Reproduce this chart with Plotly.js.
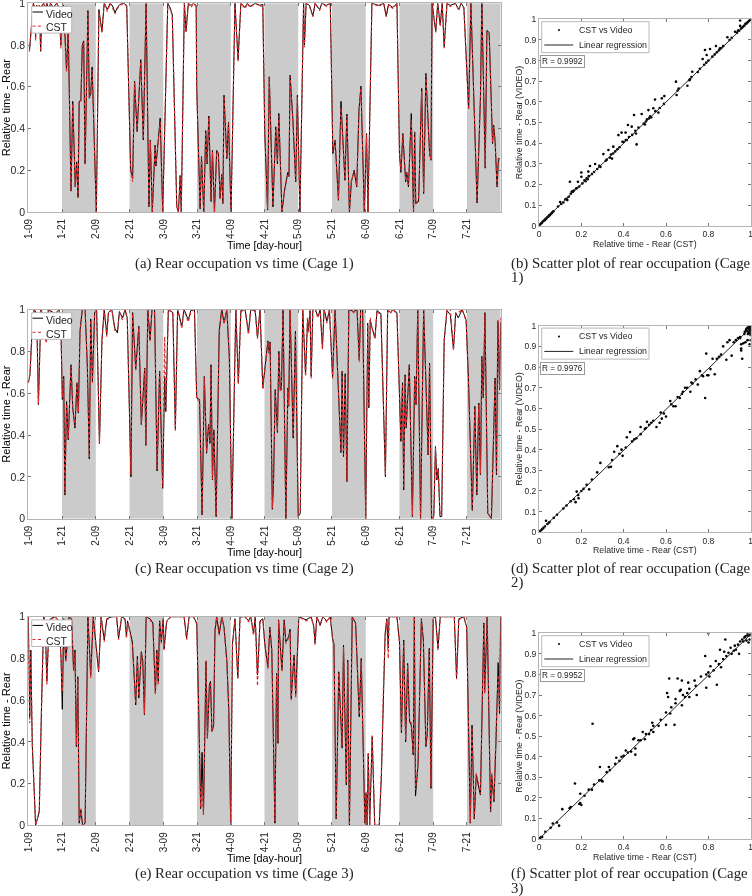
<!DOCTYPE html>
<html>
<head>
<meta charset="utf-8">
<script src="https://cdn.plot.ly/plotly-3.0.1.min.js"></script>
<style>html,body{margin:0;padding:0;background:#fff}#chart{width:752px;height:896px;filter:blur(0.35px)}</style>
</head>
<body>
<div id="chart"></div>
<script>
const tickHours=[0,12,24,36,48,60,72,84,96,108,120,132,144,156];
const tickLabels=['1-09','1-21','2-09','2-21','3-09','3-21','4-09','4-21','5-09','5-21','6-09','6-21','7-09','7-21'];
const nightStarts=[12,36,60,84,108,132,156];
const nightLength=12;

const hoursA=[0.4,0.9,1.8,2.3,2.6,3,3.4,3.9,4.4,4.9,5.5,6,6.6,7.4,7.9,8.9,10.1,11,11.6,12,12.5,13,13.6,14.2,14.7,15.2,15.8,16.7,17.2,17.7,18.1,18.7,19.2,19.7,20.2,21.2,21.7,22.2,22.7,23.1,24.2,25.1,26.2,27,28.1,29.1,29.9,30.8,31.7,32.6,34,35,36.4,37.1,37.8,38.7,40,40.9,41.9,42.9,43.4,44.1,45.1,45.4,46.9,47.8,49.6,50.4,51.2,52.8,53.4,54,54.4,55.5,56.1,56.9,57.9,58.7,59.7,59.9,61.1,61.6,62.4,63.1,63.6,64.2,65,65.5,66.2,67,67.6,68.2,68.8,69.2,69.6,70.6,71.2,72.1,73.5,74.6,75.6,77.1,77.9,78.9,80.7,82.4,83.4,84.1,85.1,85.7,87,88,88.6,89.1,90.2,91.1,92.3,92.7,93.1,94.1,95.1,95.7,96.6,97.9,98.2,98.8,100,101.2,102,103.6,104.4,106,107.4,108.3,109.1,110.3,111.2,112.6,113.3,114.2,114.9,115.9,116.8,117.6,118.3,119.5,120.3,120.8,122.2,124.6,126.4,127.3,128.1,129.7,131.1,132,132.5,133.2,134.2,134.6,135.2,136.2,137,137.4,137.8,138.8,139.9,140.6,141.4,142.7,143.2,143.6,144.9,145.6,146.5,147.2,147.9,148.9,150.1,151.9,153.1,153.9,154.9,155.4,156.6,157.4,159.6,160.8,161.3,162.5,163.1,163.9,165.1,165.5,166,166.7,167.2,167.6];
const videoA=[.77,.86,1,.97,.84,.99,.97,.99,.77,.99,1,.97,1,.97,1,.98,1,.98,.8,.98,.99,.86,.68,.87,.5,.1,.53,.12,.24,.07,.53,.535,.8,.82,.23,.965,.545,.57,.695,.5,0,.97,.865,1,.97,1,.99,.955,.98,.995,1,.99,.2,.16,.627,.385,.73,.345,1,.025,.345,0,.32,.22,.45,0,1,.98,.945,.025,0,.175,0,1,.865,1,.99,1,.99,.59,.015,.265,0,.39,.23,.46,.05,.295,0,.295,.28,.065,.18,.04,.56,.255,.43,0,1,.73,1,.98,1,.985,1,.99,.995,.376,.01,.648,.024,.408,.23,.472,0,.1,.19,.17,.656,.44,.144,.56,0,1,.8,1,.99,.94,1,.97,1,.99,1,.28,.344,.056,.53,.152,.469,0,.145,.2,.12,.488,.603,0,.376,0,1,.99,1,.94,.995,.98,1,.28,.19,.376,.144,.19,.12,.472,0,.384,.04,.05,.592,.088,.664,.28,.248,1,.865,1,.896,1,.792,1,.99,1,.97,1,.98,.84,.496,1,.043,.55,1,.21,.87,.86,.328,.416,.34,.12,.256,.256];
const cstA=[.77,.85,1,.98,.82,.99,.96,.99,.77,.99,1,.98,1,.96,1,.98,1,.97,.78,.98,.99,.85,.67,.86,.5,.1,.52,.12,.23,.07,.53,.53,.79,.815,.23,.96,.55,.56,.68,.51,0,.96,.86,1,.96,1,.98,.95,.975,.99,1,.985,.21,.145,.62,.39,.72,.35,1,.03,.34,0,.315,.225,.43,0,1,.975,.94,.03,0,.17,0,1,.86,1,.98,1,.985,.58,.02,.26,0,.385,.235,.455,.055,.29,0,.29,.28,.07,.175,.045,.555,.26,.425,0,1,.72,1,.975,1,.98,1,.985,.99,.38,.015,.645,.03,.4,.24,.46,0,.1,.185,.175,.65,.435,.15,.55,0,1,.79,1,.985,.935,1,.965,1,.985,1,.29,.34,.06,.5,.155,.46,0,.15,.195,.125,.48,.595,0,.37,0,1,.985,1,.935,.99,.975,1,.29,.2,.37,.15,.185,.13,.44,0,.38,.045,.055,.58,.095,.655,.285,.25,1,.86,1,.89,1,.785,1,.985,1,.965,1,.975,.83,.49,1,.05,.545,1,.215,.86,.85,.335,.41,.345,.125,.25,.25];

const hoursC=[0,.6,1.3,2.1,3,3.6,4.5,5.3,6.3,6.6,7.1,9.5,11,11.7,12.1,12.6,13,13.6,14.2,15.2,15.8,16.6,17.3,17.8,18.4,19.2,20.2,21,21.7,22.2,22.8,23.6,24.3,25.3,26.2,27,27.9,28.5,29.7,30.8,31.7,32.4,33.5,34.4,35.2,36.5,37.1,38.2,39.3,40.2,41.4,41.8,42.5,43.3,44,44.9,45.8,46.7,47.8,48.5,48.9,49.8,51.4,52.3,53.1,54.6,55.4,56.9,57.8,59.1,59.9,60.9,61.8,62.6,63.4,64.1,64.6,65,65.5,66,66.8,67.9,68.8,69.6,70.6,71.5,72.4,73.8,74.7,75.6,77.1,78.3,79.1,80.7,81.5,82.4,83.4,85.2,85.7,86,86.8,87.2,87.8,88.6,89.1,89.6,90,90.6,91.6,92.3,92.6,93.1,94.2,95,96,96.7,97.6,98.6,99.3,99.6,100.2,100.6,101.2,102.1,103,103.8,104.6,105.2,106.2,107.1,108.2,109.1,110.3,111.2,111.6,112.1,112.7,113.3,114,115.7,116.9,117.7,118.2,118.9,120,120.7,121.1,121.6,122.3,123.3,124,125.4,127,127.8,128.8,129.6,131.1,132,132.5,133.1,133.5,134,134.4,135.5,136.6,137.4,137.9,138.5,139.5,140.6,142.2,142.7,143.4,144.2,144.8,145.3,145.8,146.4,147,147.9,148.9,150.1,151.2,152,152.9,154.3,155.7,156.5,157.9,158.8,159.5,160.2,160.8,161.3,161.8,162.4,163.4,164.7,166,166.5,167,167.6,168];
const videoC=[.65,.69,.89,1,.98,.545,1,.97,.85,.87,1,.98,1,.85,.57,.68,.113,.56,.377,.736,.53,.433,.65,.505,.9,1,1,.73,.285,.955,.657,.985,1,.358,.855,1,.88,.985,1,.91,.888,.99,.96,1,.96,.2,.985,.715,.92,.45,.72,.35,1,.855,1,1,.228,.705,.145,.68,.513,1,.985,.43,1,.92,1,.95,.995,1,.577,.57,.018,.68,.313,.45,.36,.736,.185,.425,.01,.9,1,.935,1,.77,0,1,.65,.995,1,.888,1,.995,.865,1,.625,.85,.79,.845,.045,.17,.617,.412,.8,.617,.617,1,0,.625,.537,1,.385,.896,.01,.025,1,.688,.95,.9,.995,.68,1,1,.965,1,.816,1,.944,1,.677,1,.61,.316,.705,.297,.693,.177,1,.99,1,.76,1,1,0,.935,.53,.95,.91,.865,.995,.98,.2,1,.985,1,.985,.57,.37,.65,.137,.688,.433,.736,.01,.68,.545,1,0,1,.305,.744,0,.01,.345,.185,.24,.01,.01,.855,.995,.975,.81,.985,.96,1,.95,.68,.04,.537,.113,.553,.21,.776,.577,.985,.025,0,.672,.21,.944,.617,.94];
const cstC=[.65,.69,.88,1,.97,.55,1,.96,.84,.86,1,.97,1,.84,.58,.67,.12,.55,.385,.73,.535,.44,.65,.51,.89,1,1,.72,.29,.95,.65,.98,1,.36,.85,1,.87,.98,1,.9,.9,.985,.95,1,.955,.21,.98,.71,.915,.455,.715,.355,1,.85,1,1,.235,.7,.15,.87,.51,1,.98,.42,1,.91,1,.94,.99,1,.57,.565,.02,.675,.32,.445,.37,.73,.19,.42,.015,.89,1,.93,1,.765,0,1,.645,.99,1,.88,1,.99,.86,1,.62,.845,.785,.84,.05,.175,.61,.42,.79,.61,.625,1,0,.62,.54,1,.39,.89,.015,.03,1,.68,.96,.89,.99,.67,1,1,.96,1,.81,1,.935,1,.67,1,.605,.32,.7,.305,.685,.18,1,.985,1,.75,1,1,0,.93,.535,.96,.905,.86,.99,.975,.21,1,.98,1,.98,.565,.38,.645,.145,.68,.44,.73,.015,.67,.55,1,0,1,.31,.74,0,.015,.34,.19,.235,.015,.015,.85,1,1,.805,.98,.985,1,.945,.67,.045,.53,.12,.545,.215,.77,.58,.98,.03,0,.665,.22,.95,.62,.96];

const hoursE=[0,.5,.9,1.4,2.6,3.9,4.7,5.5,6,6.6,7.4,7.9,9.5,11,11.6,12.1,12.6,13.3,13.9,14.5,15.4,16.1,16.6,17.1,17.6,18.1,18.7,19.3,20.2,21.2,22.2,23.1,25,25.9,27,27.9,29.7,31.4,32.1,33.2,34.4,34.9,35.3,37,38.2,38.8,39.3,40.2,40.7,41.3,41.9,43.3,44.3,45.2,45.7,46.2,46.7,47.3,48,48.3,49.2,50.7,52.6,54.6,55.4,56.3,57.2,58.7,59.9,60.6,61.3,61.8,62.3,63.2,63.7,64.4,64.8,65.3,65.9,66.4,67,67.9,68.8,69.6,70.6,71.3,72,72.6,73.5,74.5,75.3,77.1,78.3,79.1,80.1,80.7,81.5,82.4,83.4,84.1,85.2,85.9,86.6,87.7,88.3,88.8,89,90.2,91,91.6,92.6,93.1,93.5,94.5,95.1,95.8,96.2,98.8,99.6,100.6,101.5,102,102.6,103.8,104.7,106.2,107.4,108.2,108.7,109.5,110.4,111.6,112.1,113.1,113.6,114.2,115.2,116.4,117.7,118.4,119.7,120.1,120.5,120.9,121.4,122.3,123.2,124.8,125.6,126.3,126.9,127.5,128,128.3,131.1,132,132.7,133.5,134.2,134.9,135.6,136.2,136.9,137.3,137.7,138.6,139.8,140.5,141.4,141.9,142.6,143.2,144,144.8,145.7,146.5,147.7,150.1,151.5,152.3,153.1,154.9,155.9,157.2,157.8,158.6,159.3,159.9,160.8,162,162.3,163.2,164.4,164.8,165.6,166.3,167.1,167.6,168];
const videoE=[1,.52,.84,.39,0,.065,.57,1,.97,.69,.98,.99,1,.98,.82,.556,.99,.79,.88,1,.99,.744,.84,.377,.712,.01,.073,0,.01,1,.72,1,.736,1,.888,.99,1,1,.896,1,.99,.904,.98,.88,.577,.81,.61,.832,.79,.53,1,.99,.97,.633,.84,.69,.98,.88,.99,.845,.98,1,1,1,1,.896,1,1,.97,.55,.08,.35,.055,.785,.417,.672,.69,.45,.48,.936,1,.917,1,.95,.79,.55,0,.87,.99,.705,1,1,.98,1,.92,1,.72,.98,.99,.872,.757,.95,.84,.01,.728,.393,.985,.744,.985,.88,.904,.94,.608,.816,.63,.86,1,.985,.99,1,.955,.872,1,.96,1,.98,1,.896,.87,.03,.736,.37,.864,.193,.792,0,1,.97,.52,.8,.01,.153,0,.345,0,.425,0,0,.25,.67,.92,.99,.85,1,1,.88,.444,.888,.4,.776,.497,.48,.337,1,.14,.289,.99,.888,.377,.44,.848,.177,.99,1,.848,1,1,1,1,.705,.99,1,.95,.01,.48,.03,.24,.2,.145,.97,.64,1,.065,.24,.113,.39,.78,.536,1];
const cstE=[1,.49,.83,.4,0,.07,.56,1,.96,.675,.97,.985,1,.975,.81,.64,.985,.78,.87,1,.985,.74,.83,.385,.705,.015,.08,0,.015,1,.705,1,.74,1,.88,.985,1,1,.89,1,.985,.895,.975,.87,.585,.8,.62,.825,.785,.535,1,.985,.965,.625,.83,.67,.975,.87,.985,.84,.975,1,1,1,1,.89,1,1,.965,.56,.085,.2,.05,.79,.42,.665,.68,.45,.47,.93,1,.91,1,.945,.785,.56,0,.865,.985,.7,1,1,.975,1,.91,1,.668,.975,.985,.865,.75,.945,.835,.015,.72,.4,.98,.735,.98,.87,.9,.93,.6,.81,.61,.85,1,.98,.985,1,.95,.865,1,.955,1,.975,1,.89,.865,.035,.73,.38,.855,.2,.785,0,1,.965,.53,.79,.015,.16,0,.35,0,.43,0,0,.27,.66,.9,.985,.8,1,1,.875,.45,.88,.41,.77,.5,.49,.345,1,.17,.295,.985,.88,.385,.45,.84,.185,.985,1,.84,1,1,1,1,.7,.985,1,.945,.015,.47,.035,.25,.21,.15,.965,.63,1,.07,.25,.12,.44,.72,.55,1];

const scatterXB=[.002,.006,.01,.014,.018,.022,.027,.031,.035,.04,.044,.048,.052,.056,.06,.064,.068,.09,.1,.105,.115,.125,.13,.134,.14,.146,.15,.155,.16,.165,.175,.18,.184,.19,.2,.2,.205,.215,.22,.225,.23,.233,.235,.241,.25,.26,.265,.275,.285,.29,.304,.315,.32,.328,.335,.34,.345,.35,.351,.36,.37,.375,.38,.39,.394,.4,.409,.41,.415,.42,.425,.438,.44,.449,.455,.458,.461,.47,.485,.495,.5,.505,.51,.517,.52,.525,.53,.54,.548,.55,.564,.57,.58,.59,.592,.647,.65,.655,.66,.701,.71,.713,.72,.724,.75,.76,.773,.78,.784,.79,.792,.8,.808,.819,.83,.836,.84,.85,.855,.86,.87,.89,.9,.91,.926,.935,.94,.945,.95,.95,.955,.96,.965,.97,.975,.98,.984,.988,.992,.996,1];
const scatterYB=[.003,.006,.012,.014,.02,.024,.027,.033,.035,.042,.044,.05,.052,.058,.06,.066,.07,.093,.115,.105,.113,.128,.13,.124,.14,.213,.155,.165,.165,.17,.18,.183,.213,.19,.258,.237,.205,.22,.215,.23,.225,.262,.24,.289,.25,.26,.299,.275,.29,.285,.347,.315,.32,.367,.33,.345,.325,.35,.383,.36,.37,.439,.38,.451,.407,.405,.451,.415,.415,.488,.43,.48,.44,.536,.46,.447,.394,.475,.541,.495,.49,.505,.515,.56,.52,.53,.525,.569,.611,.555,.548,.57,.617,.59,.628,.698,.633,.655,.665,.678,.705,.709,.72,.746,.745,.76,.808,.78,.851,.79,.827,.8,.856,.819,.83,.871,.84,.85,.86,.86,.87,.913,.9,.91,.94,.935,.945,.945,.994,.968,.955,.96,.965,.97,.978,.98,.984,.988,.992,.997,1];

const scatterXD=[.003,.008,.014,.02,.027,.033,.04,.046,.05,.07,.085,.115,.13,.15,.165,.173,.178,.185,.187,.2,.21,.225,.237,.25,.275,.29,.33,.34,.345,.355,.37,.38,.39,.395,.41,.415,.43,.44,.45,.46,.48,.48,.5,.505,.51,.52,.53,.54,.555,.57,.575,.58,.59,.6,.62,.625,.635,.645,.655,.665,.675,.68,.69,.7,.715,.72,.725,.74,.75,.76,.77,.775,.785,.79,.795,.8,.81,.82,.83,.84,.85,.86,.87,.885,.89,.9,.91,.92,.93,.94,.95,.95,.955,.955,.955,.96,.965,.97,.972,.975,.978,.98,.982,.985,.985,.987,.99,.99,.992,.995,.995,.996,.997,.998,.998,.999,1,1,1,1];
const scatterYD=[.003,.009,.014,.02,.028,.056,.04,.046,.05,.07,.085,.115,.13,.15,.16,.146,.197,.18,.165,.2,.21,.23,.208,.255,.29,.336,.315,.317,.35,.39,.417,.38,.4,.37,.41,.46,.485,.44,.45,.455,.475,.51,.5,.505,.535,.52,.53,.54,.51,.53,.58,.55,.575,.56,.635,.62,.61,.61,.655,.65,.67,.68,.7,.7,.68,.725,.72,.74,.715,.78,.76,.755,.65,.865,.76,.76,.79,.84,.765,.84,.85,.86,.9,.835,.92,.93,.855,.92,.93,.94,.94,.945,.88,.91,.89,.84,.915,.96,.97,.92,.98,.985,.975,.93,.99,.96,1,.97,.985,.91,.995,.98,.965,1,.99,.955,1,.985,.975,.93];

const scatterXF=[.005,.01,.015,.03,.055,.065,.085,.095,.11,.145,.15,.17,.19,.195,.195,.2,.215,.235,.25,.253,.26,.285,.288,.295,.3,.32,.33,.335,.36,.365,.38,.39,.4,.41,.42,.435,.445,.45,.455,.455,.47,.48,.49,.5,.505,.52,.53,.535,.54,.54,.565,.575,.6,.6,.605,.61,.615,.62,.625,.64,.645,.645,.655,.665,.67,.675,.675,.68,.69,.7,.705,.71,.71,.735,.74,.745,.765,.785,.79,.79,.8,.8,.805,.81,.825,.835,.84,.85,.855,.86,.87,.875,.88,.885,.895,.905,.91,.92,.925,.93,.94,.945,.95,.96,.965,.97,.975,.98,.985,.985,.99,.995,.995,1];
const scatterYF=[.005,.01,.01,.035,.055,.075,.08,.065,.145,.15,.155,.27,.17,.22,.175,.165,.21,.24,.24,.56,.265,.285,.35,.285,.28,.325,.35,.335,.365,.395,.38,.4,.405,.43,.42,.425,.485,.49,.44,.41,.48,.48,.52,.485,.51,.51,.53,.565,.55,.52,.55,.58,.555,.615,.71,.69,.78,.61,.64,.555,.68,.66,.78,.72,.725,.65,.77,.7,.69,.71,.76,.73,.69,.77,.745,.7,.79,.89,.735,.8,1,.81,.79,.84,.82,.865,.75,.85,.92,.835,.875,.91,.97,.89,.905,.93,.9,.915,.94,.92,.945,.9,.96,.97,.96,.98,.985,.965,.99,1,.955,.99,.97,1];

const regX=[0,1];
const regYB=[.002,.997];
const regYD=[.002,.99];
const regYF=[0,.995];
const rValues=['R = 0.9992','R = 0.9976','R = 0.9952'];
const captionsTime=['(a) Rear occupation vs time (Cage 1)','(c) Rear occupation vs time (Cage 2)','(e) Rear occupation vs time (Cage 3)'];
const captionsScatter=['(b) Scatter plot of rear occupation (Cage','(d) Scatter plot of rear occupation (Cage','(f) Scatter plot of rear occupation (Cage'];
const captionsScatter2=['1)','2)','3)'];

const W=752,H=896;
const timePanels=[[3.3,212],[309.5,518.7],[616.7,825.3]];
const scatterPanels=[[19.3,225.7],[325.7,532.3],[633.3,839]];
const timeX=[28.3,500.7], scatterX=[539,750.7];
const captionY=[263,568,873], caption2Y=[277,582,888];
const fx=p=>p/W, fy=p=>1-p/H;
const sans='"Liberation Sans", Arial, sans-serif', serif='"Liberation Serif", serif';
const ink='#262626', frame='#b4b4b4', red='rgb(224,40,40)';

const series=[[hoursA,videoA,cstA],[hoursC,videoC,cstC],[hoursE,videoE,cstE]];
const clouds=[[scatterXB,scatterYB,regYB],[scatterXD,scatterYD,regYD],[scatterXF,scatterYF,regYF]];
const data=[], layout={width:W,height:H,margin:{l:0,r:0,t:0,b:0},paper_bgcolor:'#fff',plot_bgcolor:'#fff',showlegend:false,shapes:[],annotations:[]};

function axis(extra){return Object.assign({linecolor:frame,linewidth:1,mirror:'ticks',ticks:'inside',ticklen:3,tickcolor:'#777',tickwidth:1,showgrid:false,zeroline:false,color:ink,fixedrange:true,ticklabeloverflow:'allow'},extra);}
function txt(text,x,y,size,opts){layout.annotations.push(Object.assign({text,x:fx(x),y:fy(y),xref:'paper',yref:'paper',showarrow:false,xanchor:'left',yanchor:'middle',font:{family:sans,size,color:ink}},opts||{}));}
function box(x0,y0,x1,y1){layout.shapes.push({type:'rect',xref:'paper',yref:'paper',x0:fx(x0),x1:fx(x1),y0:fy(y0),y1:fy(y1),fillcolor:'#fff',line:{color:'#b8b8b8',width:1},layer:'above'});}
function seg(x0,x1,y,color,dash){layout.shapes.push({type:'line',xref:'paper',yref:'paper',x0:fx(x0),x1:fx(x1),y0:fy(y),y1:fy(y),line:{color,width:1,dash:dash||'solid'},layer:'above'});}

for(let i=0;i<3;i++){
  const n1=2*i+1,n2=2*i+2;
  const xa=n1===1?'x':'x'+n1, ya=n1===1?'y':'y'+n1;
  const xb='x'+n2, yb='y'+n2;
  const [t,v,c]=series[i];
  data.push({type:'scatter',mode:'lines',name:'Video',x:t,y:v,xaxis:xa,yaxis:ya,line:{color:'#000',width:1},hoverinfo:'skip'});
  data.push({type:'scatter',mode:'lines',name:'CST',x:t,y:c,xaxis:xa,yaxis:ya,line:{color:red,width:1.2,dash:'3px,2.5px'},hoverinfo:'skip'});
  const [top,bot]=timePanels[i];
  layout['xaxis'+n1]=axis({domain:[fx(timeX[0]),fx(timeX[1])],anchor:ya,range:[0,168],tickvals:tickHours,ticktext:tickLabels,tickangle:-90,tickfont:{family:sans,size:10,color:ink},ticklabelstandoff:2,title:{text:'Time [day-hour]',standoff:1,font:{family:sans,size:10.8,color:'#000'}}});
  layout['yaxis'+n1]=axis({domain:[fy(bot),fy(top)],anchor:xa,range:[0,1],tickvals:[0,.2,.4,.6,.8,1],ticktext:['0','0.2','0.4','0.6','0.8','1'],tickfont:{family:sans,size:10.5,color:ink},title:{text:'Relative time - Rear',standoff:7,font:{family:sans,size:11,color:'#000'}}});
  nightStarts.forEach(s=>layout.shapes.push({type:'rect',xref:xa,yref:ya,x0:s,x1:s+nightLength,y0:0,y1:1,fillcolor:'#cbcbcb',line:{width:0},layer:'below'}));
  box(31.7,top+3.2,71.7,top+29.8);
  seg(32.5,43,top+8.7,'#000');
  seg(32.5,43,top+22.8,red,'3px,2.5px');
  txt('Video',44,top+10.5,10.5);
  txt('CST',44,top+24,10.5);
  txt(captionsTime[i],245,captionY[i],14.8,{xanchor:'center',font:{family:serif,size:14.8,color:'#222'}});

  const [sx,sy,ry]=clouds[i];
  data.push({type:'scatter',mode:'markers',name:'CST vs Video',x:sx,y:sy,xaxis:xb,yaxis:yb,marker:{color:'#000',size:2.6},hoverinfo:'skip'});
  data.push({type:'scatter',mode:'lines',name:'Linear regression',x:regX,y:ry,xaxis:xb,yaxis:yb,line:{color:'#222',width:1},hoverinfo:'skip'});
  const [st,sb]=scatterPanels[i];
  layout['xaxis'+n2]=axis({domain:[fx(scatterX[0]),fx(scatterX[1])],anchor:yb,range:[0,1],tickvals:[0,.2,.4,.6,.8,1],ticktext:['0','0.2','0.4','0.6','0.8','1'],tickangle:0,tickfont:{family:sans,size:8.5,color:ink},title:{text:'Relative time - Rear (CST)',standoff:2,font:{family:sans,size:8.8,color:ink}}});
  layout['yaxis'+n2]=axis({domain:[fy(sb),fy(st)],anchor:xb,range:[0,1],tickvals:[0,.1,.2,.3,.4,.5,.6,.7,.8,.9,1],ticktext:['0','0.1','0.2','0.3','0.4','0.5','0.6','0.7','0.8','0.9','1'],tickfont:{family:sans,size:8.5,color:ink},title:{text:'Relative time - Rear (VIDEO)',standoff:0,font:{family:sans,size:8.8,color:ink}}});
  box(541.7,st+2.4,649,st+33.4);
  layout.shapes.push({type:'circle',xref:'paper',yref:'paper',x0:fx(558),x1:fx(560),y0:fy(st+11.7),y1:fy(st+9.7),fillcolor:'#000',line:{width:0},layer:'above'});
  seg(544.3,573.3,st+25.7,'#222');
  txt('CST vs Video',576.7,st+10.7,8.8);
  txt('Linear regression',576.7,st+25.7,8.8);
  txt(rValues[i],562.8,st+42.4,8.2,{xanchor:'center',bgcolor:'#fff',bordercolor:'#999',borderwidth:1,borderpad:1});
  txt(captionsScatter[i],508.5,captionY[i],14.8,{font:{family:serif,size:14.8,color:'#222'}});
  txt(captionsScatter2[i],508.5,caption2Y[i],14.8,{font:{family:serif,size:14.8,color:'#222'}});
}
Plotly.newPlot('chart',data,layout,{displayModeBar:false,staticPlot:true});
</script>
</body>
</html>
